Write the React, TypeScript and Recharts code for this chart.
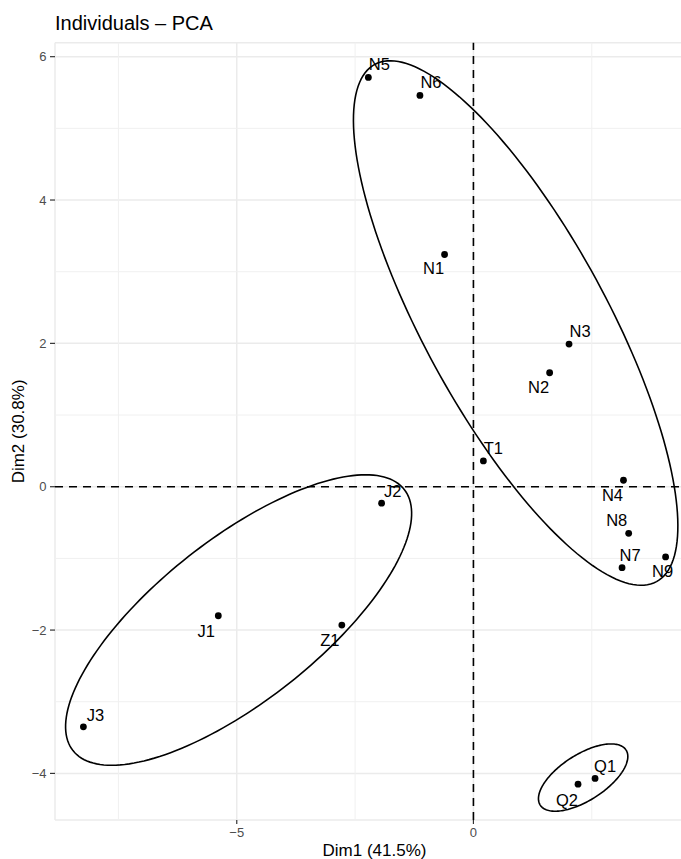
import React from "react";
import {
  ScatterChart,
  Scatter,
  XAxis,
  YAxis,
  CartesianGrid,
  ReferenceLine,
} from "recharts";

// Individuals (Dim1 / Dim2 coordinates)
const NAMES = ["N1", "N2", "N3", "N4", "N5", "N6", "N7", "N8", "N9", "T1", "J1", "J2", "J3", "Z1", "Q1", "Q2"];
const DIM1 = [-0.61, 1.61, 2.02, 3.17, -2.22, -1.13, 3.14, 3.28, 4.06, 0.21, -5.39, -1.94, -8.24, -2.78, 2.57, 2.21];
const DIM2 = [3.24, 1.59, 1.99, 0.09, 5.71, 5.46, -1.13, -0.65, -0.98, 0.36, -1.8, -0.23, -3.35, -1.93, -4.07, -4.15];

const X_TICKS = [-5, 0];
const Y_TICKS = [-4, -2, 0, 2, 4, 6];
const X_MINOR = [-7.5, -2.5, 2.5];
const Y_MINOR = [-3, -1, 1, 3, 5];

// group ellipses: centre, major and minor semi-axis vectors (data units)
const ELLIPSE_GROUPS = ["N", "J", "Q"];
const ELLIPSE_CX = [0.892, -4.961, 2.318];
const ELLIPSE_CY = [2.284, -1.86, -4.058];
const ELLIPSE_MAJOR = [
  [2.977, -3.608],
  [3.499, 1.822],
  [0.907, 0.384],
];
const ELLIPSE_MINOR = [
  [-1.698, -0.611],
  [1.0585, -0.887],
  [0.262, -0.27],
];

// label placement in px relative to the point (ggrepel-ish)
const LABEL_OFFSETS: Record<string, [number, number]> = {
  N5: [11, -13],
  N6: [11, -13],
  N1: [-11, 14],
  N3: [11, -13],
  N2: [-11, 14],
  T1: [10, -13],
  N4: [-11, 15],
  N8: [-12, -13],
  N7: [8, -13],
  N9: [-3, 14],
  J2: [11, -12],
  Z1: [-12, 15],
  J1: [-12, 15],
  J3: [12, -12],
  Q1: [10, -12],
  Q2: [-11, 16],
};

const FONT = "'Liberation Sans', Arial, Helvetica, sans-serif";
const W = 700;
const H = 859;

const points = NAMES.map((name, i) => ({ name, x: DIM1[i], y: DIM2[i] }));

function ellipseOutline(g: number) {
  const out: { x: number; y: number }[] = [];
  const steps = 180;
  for (let k = 0; k <= steps; k++) {
    const t = (k / steps) * Math.PI * 2;
    out.push({
      x: ELLIPSE_CX[g] + ELLIPSE_MAJOR[g][0] * Math.cos(t) + ELLIPSE_MINOR[g][0] * Math.sin(t),
      y: ELLIPSE_CY[g] + ELLIPSE_MAJOR[g][1] * Math.cos(t) + ELLIPSE_MINOR[g][1] * Math.sin(t),
    });
  }
  return out;
}

const fmt = (v: number) => (v < 0 ? "\u2212" + Math.abs(v) : String(v));

function PointShape(props: any) {
  const { cx, cy, payload } = props;
  const [dx, dy] = LABEL_OFFSETS[payload.name] ?? [10, -12];
  return (
    <g>
      <circle cx={cx} cy={cy} r={3.4} fill="#000" />
      <text
        x={cx + dx}
        y={cy + dy}
        dy="0.36em"
        textAnchor="middle"
        fontSize={16.5}
        fontFamily={FONT}
        fill="#000"
      >
        {payload.name}
      </text>
    </g>
  );
}

const NoShape = () => <g />;

export default function App() {
  return (
    <div
      style={{
        position: "relative",
        width: 681,
        height: H,
        overflow: "hidden",
        background: "#fff",
        fontFamily: FONT,
      }}
    >
      <style>{`body{margin:0;overflow:hidden;}`}</style>
      <ScatterChart
        width={W}
        height={H}
        margin={{ top: 42.7, right: 6, bottom: 0, left: 0 }}
      >
        <CartesianGrid stroke="#EBEBEB" strokeWidth={1.5} />
        {X_MINOR.map((v) => (
          <ReferenceLine key={"xm" + v} x={v} stroke="#F0F0F0" strokeWidth={1} zIndex={-50} />
        ))}
        {Y_MINOR.map((v) => (
          <ReferenceLine key={"ym" + v} y={v} stroke="#F0F0F0" strokeWidth={1} zIndex={-50} />
        ))}
        <XAxis
          type="number"
          dataKey="x"
          domain={[-8.84, 4.66]}
          ticks={X_TICKS}
          allowDataOverflow
          tickFormatter={fmt}
          tick={{ fill: "#4D4D4D", fontSize: 13 }}
          tickLine={{ stroke: "#333", strokeWidth: 1.2 }}
          axisLine={false}
          tickSize={4}
          tickMargin={4}
          height={39}
        />
        <YAxis
          type="number"
          dataKey="y"
          domain={[-4.65, 6.195]}
          ticks={Y_TICKS}
          allowDataOverflow
          tickFormatter={fmt}
          tick={{ fill: "#4D4D4D", fontSize: 13 }}
          tickLine={{ stroke: "#333", strokeWidth: 1.2 }}
          axisLine={false}
          tickSize={5}
          tickMargin={3.5}
          width={55}
        />
        <ReferenceLine x={0} stroke="#000" strokeWidth={1.6} strokeDasharray="8 6" />
        <ReferenceLine y={0} stroke="#000" strokeWidth={1.6} strokeDasharray="8 6" />
        {ELLIPSE_GROUPS.map((g, i) => (
          <Scatter
            key={g}
            name={g}
            data={ellipseOutline(i)}
            line={{ stroke: "#000", strokeWidth: 1.6, fill: "none" }}
            lineType="joint"
            shape={NoShape}
            legendType="none"
            isAnimationActive={false}
          />
        ))}
        <Scatter
          name="individuals"
          data={points}
          shape={PointShape}
          isAnimationActive={false}
        />
      </ScatterChart>
      <svg
        width={681}
        height={H}
        style={{ position: "absolute", left: 0, top: 0, pointerEvents: "none" }}
      >
        <text x={55} y={29.5} fontSize={20} fontFamily={FONT} fill="#000">
          Individuals – PCA
        </text>
        <text x={374.5} y={855.5} fontSize={17} fontFamily={FONT} fill="#000" textAnchor="middle">
          Dim1 (41.5%)
        </text>
        <text
          transform="translate(24,431.4) rotate(-90)"
          fontSize={17}
          fontFamily={FONT}
          fill="#000"
          textAnchor="middle"
        >
          Dim2 (30.8%)
        </text>
      </svg>
    </div>
  );
}
